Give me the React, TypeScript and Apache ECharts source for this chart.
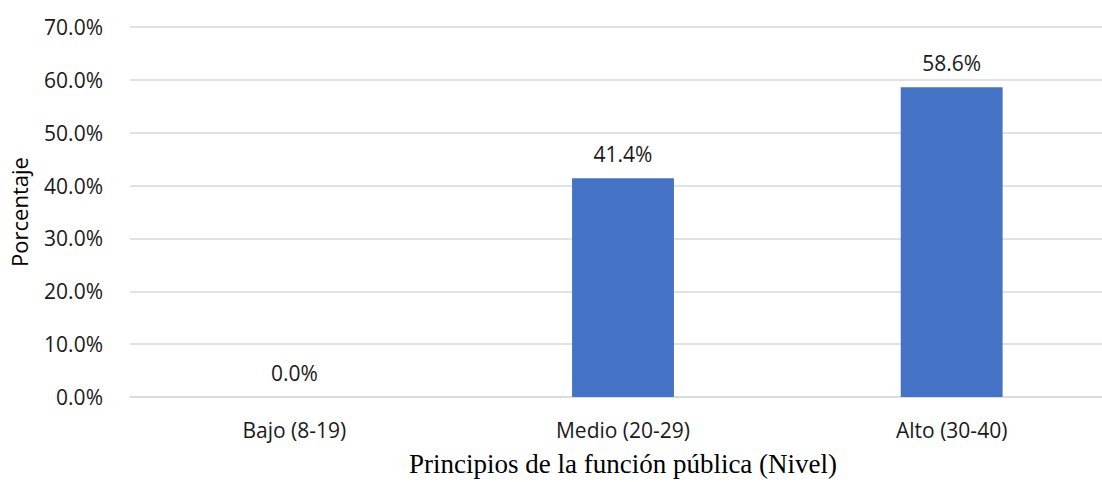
import React, { useEffect, useRef } from "react";
import * as echarts from "echarts";

const categories = ["Bajo (8-19)", "Medio (20-29)", "Alto (30-40)"];
const values = [0.0, 41.4, 58.6];
const yTicks = { min: 0, max: 70, interval: 10 };
const xAxisTitle = "Principios de la función pública (Nivel)";
const yAxisTitle = "Porcentaje";

export default function App() {
  const ref = useRef<HTMLDivElement>(null);
  useEffect(() => {
    if (!ref.current) return;
    const chart = echarts.init(ref.current, undefined, { renderer: "svg" });
    const sans = "'Open Sans', sans-serif";
    chart.setOption({
      animation: false,
      grid: { left: 126, right: 14, top: 27, bottom: 78, containLabel: false },
      xAxis: {
        type: "category",
        data: categories,
        axisLine: { show: true, lineStyle: { color: "#d9d9d9", width: 1.5 } },
        axisTick: { show: false },
        axisLabel: { color: "#1a1a1a", fontSize: 21, fontFamily: sans, margin: 22 },
        name: xAxisTitle,
        nameLocation: "middle",
        nameGap: 53,
        nameTextStyle: { color: "#000", fontSize: 27, fontFamily: "'Liberation Serif', 'Times New Roman', serif" },
      },
      yAxis: {
        type: "value",
        min: yTicks.min,
        max: yTicks.max,
        interval: yTicks.interval,
        axisLine: { show: false },
        axisTick: { show: false },
        splitLine: { lineStyle: { color: "#d9d9d9", width: 1.5 } },
        axisLabel: {
          color: "#1a1a1a",
          fontSize: 21,
          fontFamily: sans,
          margin: 27,
          formatter: (v: number) => v.toFixed(1) + "%",
        },
        name: yAxisTitle,
        nameLocation: "middle",
        nameGap: 100,
        nameRotate: 90,
        nameTextStyle: { color: "#000", fontSize: 22, fontFamily: sans },
      },
      series: [
        {
          type: "bar",
          data: values,
          barWidth: "31%",
          itemStyle: { color: "#4472c4" },
          label: {
            show: true,
            position: "top",
            distance: 14,
            color: "#1a1a1a",
            fontSize: 21,
            fontFamily: sans,
            formatter: (p: any) => Number(p.value).toFixed(1) + "%",
          },
        },
      ],
    });
    return () => chart.dispose();
  }, []);
  return (
    <div style={{ position: "fixed", left: 0, top: 0, width: 1102, height: 482, overflow: "hidden", background: "#fff" }}>
      <div ref={ref} style={{ width: 1130, height: 482 }} />
    </div>
  );
}
